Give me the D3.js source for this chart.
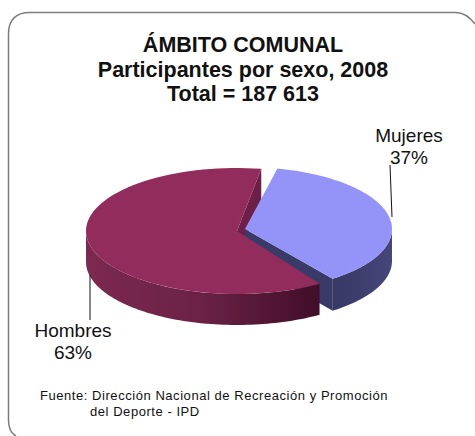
<!DOCTYPE html>
<html>
<head>
<meta charset="utf-8">
<script src="https://d3js.org/d3.v7.min.js"></script>
<style>
html, body { margin: 0; padding: 0; background: #fff; }
text { font-family: "Liberation Sans", Arial, sans-serif; fill: #111; }
</style>
</head>
<body>
<div id="chart"></div>
<script>
// datos
const categories = ["Mujeres", "Hombres"];
const percentages = [37, 63];
const titleLines = ["ÁMBITO COMUNAL", "Participantes por sexo, 2008", "Total = 187 613"];
const sourceLines = ["Fuente: Dirección Nacional de Recreación  y Promoción", "del Deporte - IPD"];

const svgWidth = 475, svgHeight = 436;
const deg = Math.PI / 180;

const svg = d3.select("#chart").append("svg")
    .attr("width", svgWidth)
    .attr("height", svgHeight)
    .style("display", "block");

// marco redondeado
svg.append("path")
    .attr("d", "M16,436 Q8.5,432 8.5,420 V34 Q8.5,12.5 30,12.5 H456 Q466,12.5 475,24")
    .attr("fill", "none")
    .attr("stroke", "#7c7c7c")
    .attr("stroke-width", 1.5);

// titulo
svg.append("g").selectAll("text")
    .data(titleLines)
    .enter().append("text")
    .attr("x", 243)
    .attr("y", (d, i) => 52 + i * 24.7)
    .attr("text-anchor", "middle")
    .attr("font-size", 21.5)
    .attr("font-weight", "bold")
    .text(d => d);

// pie, angulos desde arriba en sentido horario
const pie = d3.pie()
    .sort(null)
    .startAngle(11 * deg)
    .endAngle(371 * deg)
    .padAngle(3.5 * deg);
const arcs = pie(percentages);

// cada sector con su propio centro (Mujeres va separado)
const geometry = [
    { cx: 245, cy: 229, rx: 147, ry: 62, depth: 32, top: "#9494f8" },
    { cx: 237, cy: 231, rx: 151, ry: 63, depth: 31, top: "#922c5d" }
];
const slices = arcs.map((a, i) => ({
    ...geometry[i],
    name: categories[i],
    start: a.startAngle + a.padAngle / 2,
    end: a.endAngle - a.padAngle / 2
}));

const px = (s, t) => s.cx + s.rx * Math.sin(t);
const py = (s, t) => s.cy - s.ry * Math.cos(t);
const line = d3.line();

function rimPoints(s, t0, t1) {
    const n = 80;
    return d3.range(n + 1).map(k => {
        const t = t0 + (t1 - t0) * k / n;
        return [px(s, t), py(s, t)];
    });
}

function sidePath(s, t0, t1) {
    const rim = rimPoints(s, t0, t1);
    const low = rim.slice().reverse().map(p => [p[0], p[1] + s.depth]);
    return line(rim.concat(low)) + "Z";
}

function wallPath(s, t) {
    return line([
        [s.cx, s.cy],
        [px(s, t), py(s, t)],
        [px(s, t), py(s, t) + s.depth],
        [s.cx, s.cy + s.depth]
    ]) + "Z";
}

function topPath(s) {
    return line([[s.cx, s.cy]].concat(rimPoints(s, s.start, s.end))) + "Z";
}

// degradados de los costados
const defs = svg.append("defs");
function addGradient(id, x1, x2, stops) {
    const g = defs.append("linearGradient")
        .attr("id", id)
        .attr("gradientUnits", "userSpaceOnUse")
        .attr("x1", x1).attr("x2", x2)
        .attr("y1", 0).attr("y2", 0);
    g.selectAll("stop").data(stops).enter().append("stop")
        .attr("offset", d => d[0])
        .attr("stop-color", d => d[1]);
}
addGradient("sideHombres", 86, 318, [[0, "#7c2950"], [0.5, "#6a2145"], [1, "#420e29"]]);
addGradient("sideMujeres", 318, 392, [[0, "#34345f"], [1, "#46467a"]]);

const mujeres = slices[0], hombres = slices[1];
const pieG = svg.append("g");

// pared interior de Hombres, detras de todo
pieG.append("path").attr("d", wallPath(hombres, hombres.end)).attr("fill", "#6e1f48");
// Mujeres
pieG.append("path").attr("d", wallPath(mujeres, mujeres.end)).attr("fill", "#3a3a68");
pieG.append("path").attr("d", sidePath(mujeres, 90 * deg, mujeres.end)).attr("fill", "url(#sideMujeres)");
pieG.append("path").attr("d", topPath(mujeres)).attr("fill", mujeres.top);
// Hombres
pieG.append("path").attr("d", sidePath(hombres, hombres.start, 270 * deg)).attr("fill", "url(#sideHombres)");
pieG.append("path").attr("d", topPath(hombres)).attr("fill", hombres.top);

// lineas guia
svg.append("line").attr("x1", 390).attr("y1", 165).attr("x2", 392).attr("y2", 217)
    .attr("stroke", "#111").attr("stroke-width", 1);
svg.append("line").attr("x1", 90).attr("y1", 275).attr("x2", 90).attr("y2", 320)
    .attr("stroke", "#111").attr("stroke-width", 1);

// etiquetas
const labelPos = [{ x: 409, y: 142 }, { x: 73, y: 337 }];
const labels = svg.append("g").selectAll("g")
    .data(slices)
    .enter().append("g")
    .attr("transform", (d, i) => `translate(${labelPos[i].x},${labelPos[i].y})`)
    .attr("text-anchor", "middle")
    .attr("font-size", 19);
labels.append("text").text(d => d.name);
labels.append("text").attr("y", 21.5).text((d, i) => percentages[i] + "%");

// fuente
svg.append("text").attr("x", 40).attr("y", 400).attr("font-size", 13).attr("letter-spacing", 0.55).text(sourceLines[0]);
svg.append("text").attr("x", 90).attr("y", 416).attr("font-size", 13).attr("letter-spacing", 0.55).text(sourceLines[1]);
</script>
</body>
</html>
